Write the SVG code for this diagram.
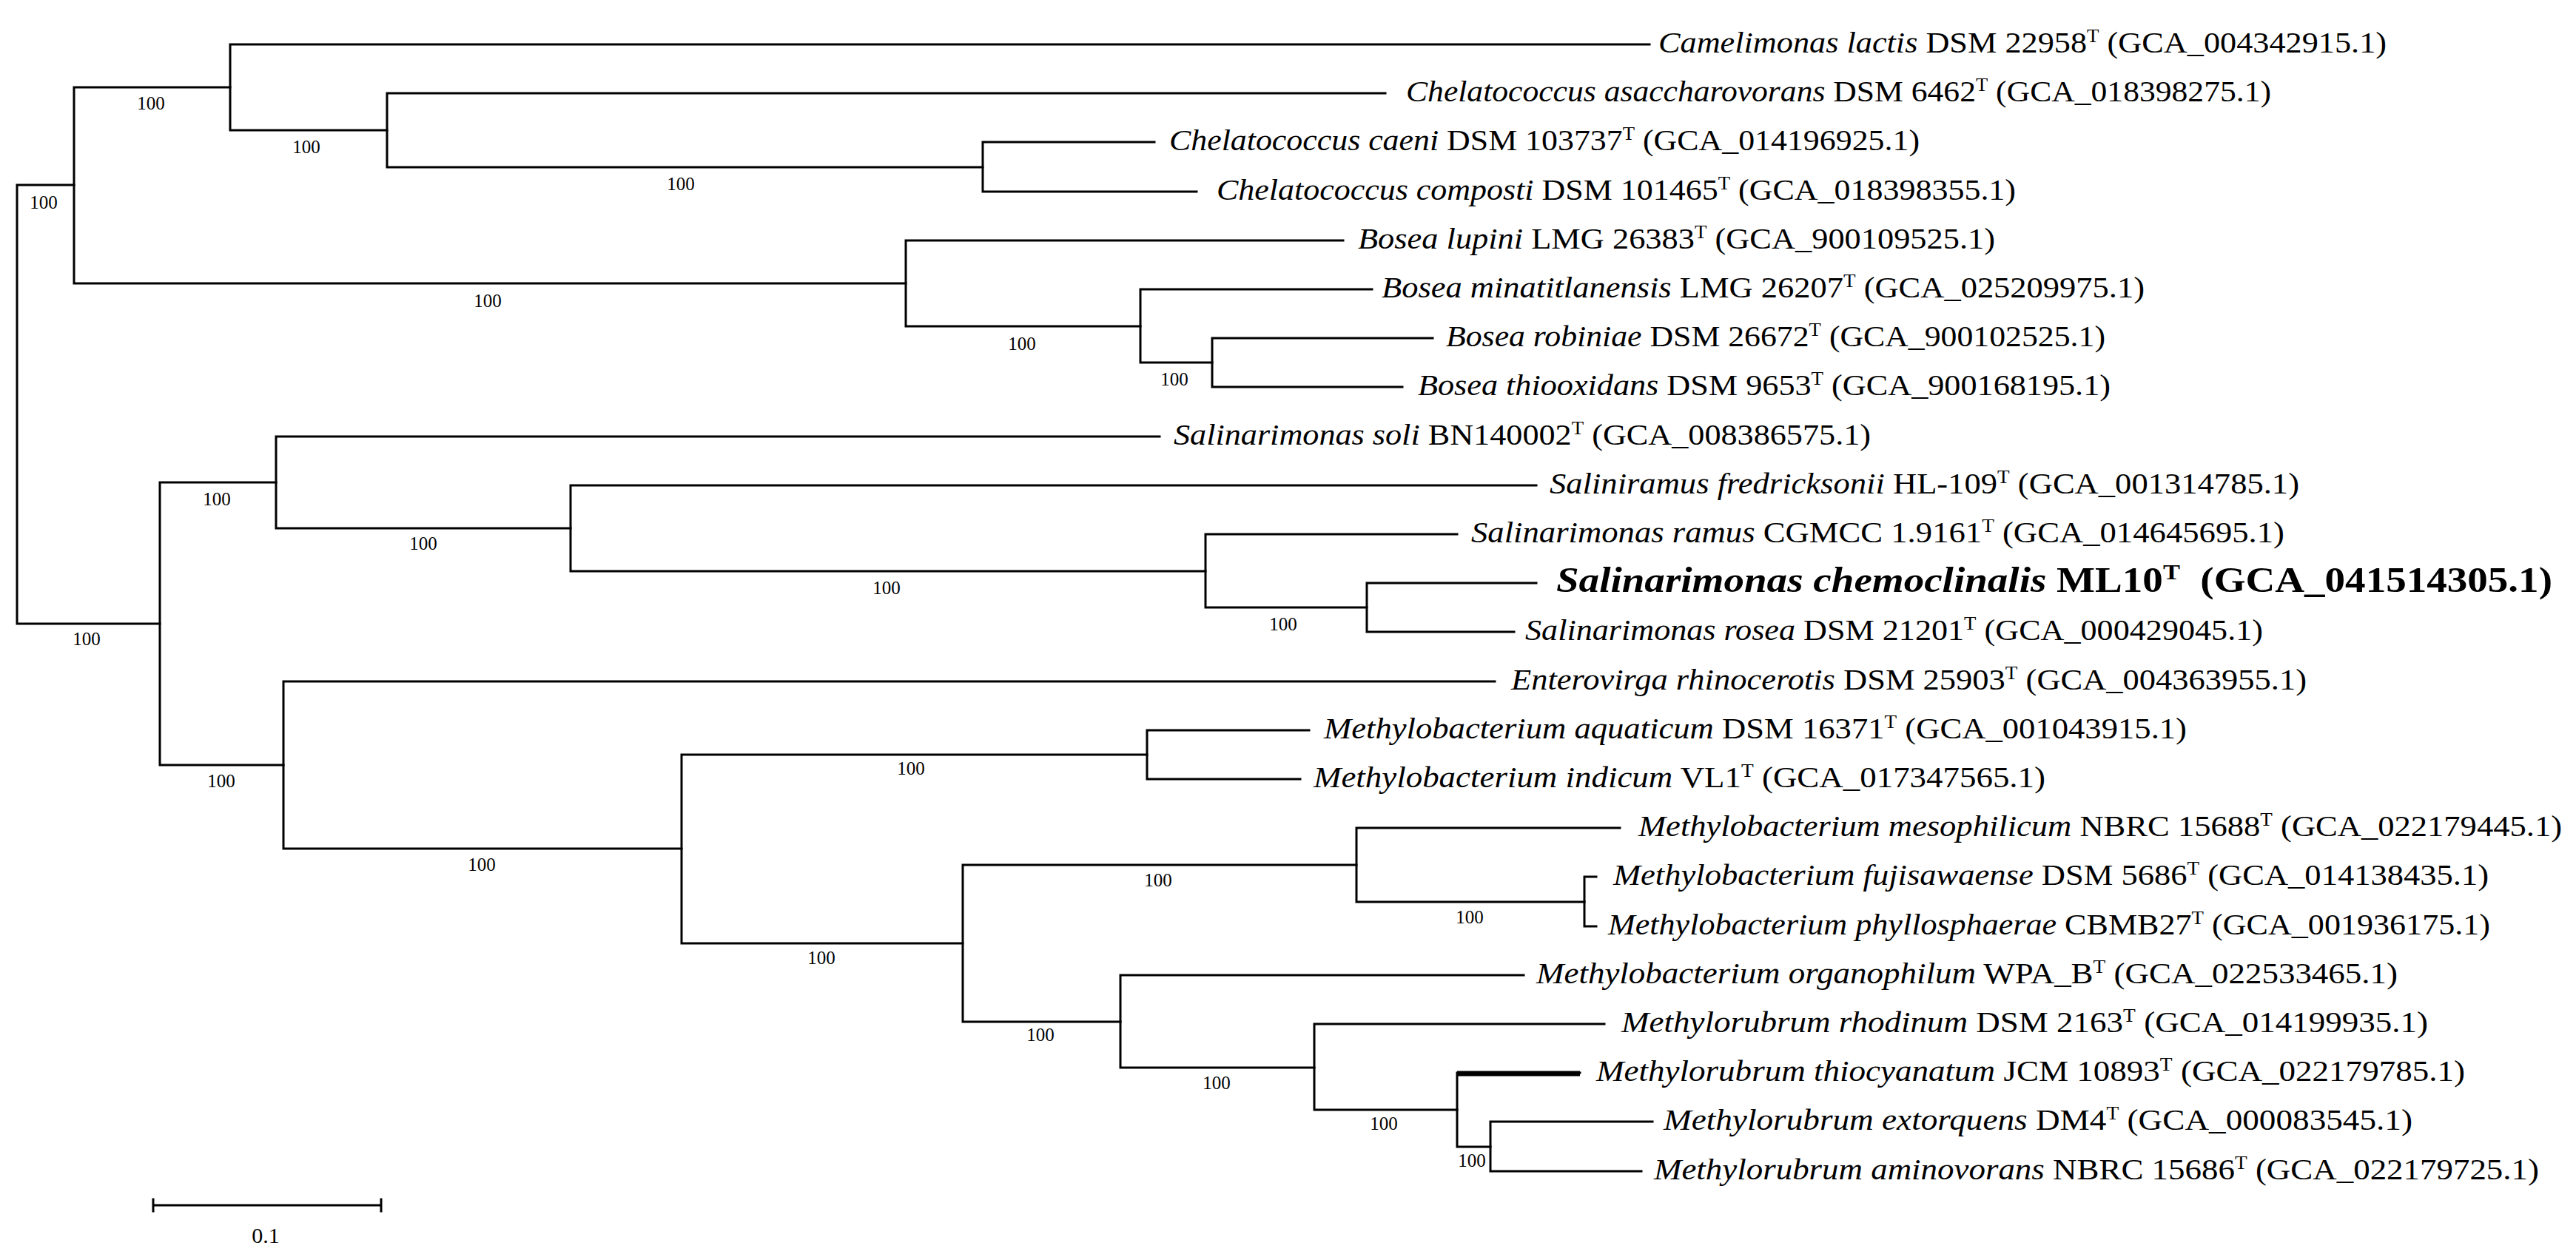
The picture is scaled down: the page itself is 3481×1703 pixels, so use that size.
<svg xmlns="http://www.w3.org/2000/svg" width="3481" height="1703" viewBox="0 0 3481 1703">
<style>
.br{fill:none;stroke:#000;stroke-width:3;stroke-linecap:square;stroke-linejoin:miter}
.thick{fill:none;stroke:#000;stroke-width:7}
.tx{font-family:"Liberation Serif","Times New Roman",serif;font-size:41px;fill:#000}
.bd{font-family:"Liberation Serif","Times New Roman",serif;font-size:48px;font-weight:bold;fill:#000}
.i{font-style:italic}
.bs{font-family:"Liberation Serif","Times New Roman",serif;font-size:25px;fill:#000;text-anchor:middle}
.sc{font-family:"Liberation Serif","Times New Roman",serif;font-size:30px;fill:#000;text-anchor:middle}
</style>
<rect width="3481" height="1703" fill="#fff"/>
<g id="connectors">
<path class="br" d="M100,250 H23 V843 H216"/>
<path class="br" d="M311,118 H100 V383 H1224"/>
<path class="br" d="M2229,60 H311 V176 H523"/>
<path class="br" d="M1872,126 H523 V226 H1328"/>
<path class="br" d="M1560,192 H1328 V259 H1617"/>
<path class="br" d="M1815,325 H1224 V441 H1541"/>
<path class="br" d="M1854,391 H1541 V490 H1638"/>
<path class="br" d="M1936,457 H1638 V523 H1895"/>
<path class="br" d="M373,652 H216 V1034 H383"/>
<path class="br" d="M1567,590 H373 V714 H771"/>
<path class="br" d="M2076,656 H771 V772 H1629"/>
<path class="br" d="M1969,722 H1629 V821 H1847"/>
<path class="br" d="M2076,788 H1847 V854 H2046"/>
<path class="br" d="M2020,921 H383 V1147 H921"/>
<path class="br" d="M1550,1020 H921 V1275 H1301"/>
<path class="br" d="M1769,987 H1550 V1053 H1757"/>
<path class="br" d="M1833,1169 H1301 V1381 H1514"/>
<path class="br" d="M2189,1119 H1833 V1219 H2141"/>
<path class="br" d="M2157,1185 H2141 V1252 H2157"/>
<path class="br" d="M2059,1318 H1514 V1443 H1776"/>
<path class="br" d="M2168,1384 H1776 V1500 H1969"/>
<path class="br" d="M2135,1450 H1969 V1550 H2014"/>
<path class="thick" d="M1969,1451 H2135"/>
<path class="br" d="M2233,1516 H2014 V1583 H2218"/>
</g>
<g id="bootstrap">
<text class="bs" x="204" y="148">100</text>
<text class="bs" x="414" y="207">100</text>
<text class="bs" x="920" y="257">100</text>
<text class="bs" x="59" y="282">100</text>
<text class="bs" x="659" y="415">100</text>
<text class="bs" x="1381" y="473">100</text>
<text class="bs" x="1587" y="521">100</text>
<text class="bs" x="117" y="872">100</text>
<text class="bs" x="293" y="683">100</text>
<text class="bs" x="572" y="743">100</text>
<text class="bs" x="1198" y="803">100</text>
<text class="bs" x="1734" y="852">100</text>
<text class="bs" x="299" y="1064">100</text>
<text class="bs" x="651" y="1177">100</text>
<text class="bs" x="1110" y="1303">100</text>
<text class="bs" x="1231" y="1047">100</text>
<text class="bs" x="1565" y="1198">100</text>
<text class="bs" x="1986" y="1248">100</text>
<text class="bs" x="1406" y="1407">100</text>
<text class="bs" x="1644" y="1472">100</text>
<text class="bs" x="1870" y="1527">100</text>
<text class="bs" x="1989" y="1577">100</text>
</g>
<g id="taxon-0"><text class="tx" x="2241" y="71" textLength="984" lengthAdjust="spacingAndGlyphs"><tspan class="i">Camelimonas lactis</tspan> DSM 22958<tspan dy="-14" font-size="25">T</tspan><tspan dy="14"> (GCA_004342915.1)</tspan></text></g>
<g id="taxon-1"><text class="tx" x="1900" y="137" textLength="1169" lengthAdjust="spacingAndGlyphs"><tspan class="i">Chelatococcus asaccharovorans</tspan> DSM 6462<tspan dy="-14" font-size="25">T</tspan><tspan dy="14"> (GCA_018398275.1)</tspan></text></g>
<g id="taxon-2"><text class="tx" x="1580" y="203" textLength="1014" lengthAdjust="spacingAndGlyphs"><tspan class="i">Chelatococcus caeni</tspan> DSM 103737<tspan dy="-14" font-size="25">T</tspan><tspan dy="14"> (GCA_014196925.1)</tspan></text></g>
<g id="taxon-3"><text class="tx" x="1644" y="270" textLength="1080" lengthAdjust="spacingAndGlyphs"><tspan class="i">Chelatococcus composti</tspan> DSM 101465<tspan dy="-14" font-size="25">T</tspan><tspan dy="14"> (GCA_018398355.1)</tspan></text></g>
<g id="taxon-4"><text class="tx" x="1835" y="336" textLength="861" lengthAdjust="spacingAndGlyphs"><tspan class="i">Bosea lupini</tspan> LMG 26383<tspan dy="-14" font-size="25">T</tspan><tspan dy="14"> (GCA_900109525.1)</tspan></text></g>
<g id="taxon-5"><text class="tx" x="1867" y="402" textLength="1031" lengthAdjust="spacingAndGlyphs"><tspan class="i">Bosea minatitlanensis</tspan> LMG 26207<tspan dy="-14" font-size="25">T</tspan><tspan dy="14"> (GCA_025209975.1)</tspan></text></g>
<g id="taxon-6"><text class="tx" x="1954" y="468" textLength="891" lengthAdjust="spacingAndGlyphs"><tspan class="i">Bosea robiniae</tspan> DSM 26672<tspan dy="-14" font-size="25">T</tspan><tspan dy="14"> (GCA_900102525.1)</tspan></text></g>
<g id="taxon-7"><text class="tx" x="1916" y="534" textLength="936" lengthAdjust="spacingAndGlyphs"><tspan class="i">Bosea thiooxidans</tspan> DSM 9653<tspan dy="-14" font-size="25">T</tspan><tspan dy="14"> (GCA_900168195.1)</tspan></text></g>
<g id="taxon-8"><text class="tx" x="1586" y="601" textLength="942" lengthAdjust="spacingAndGlyphs"><tspan class="i">Salinarimonas soli</tspan> BN140002<tspan dy="-14" font-size="25">T</tspan><tspan dy="14"> (GCA_008386575.1)</tspan></text></g>
<g id="taxon-9"><text class="tx" x="2094" y="667" textLength="1013" lengthAdjust="spacingAndGlyphs"><tspan class="i">Saliniramus fredricksonii</tspan> HL-109<tspan dy="-14" font-size="25">T</tspan><tspan dy="14"> (GCA_001314785.1)</tspan></text></g>
<g id="taxon-10"><text class="tx" x="1988" y="733" textLength="1099" lengthAdjust="spacingAndGlyphs"><tspan class="i">Salinarimonas ramus</tspan> CGMCC 1.9161<tspan dy="-14" font-size="25">T</tspan><tspan dy="14"> (GCA_014645695.1)</tspan></text></g>
<g id="taxon-11"><text class="bd" x="2103" y="800" textLength="1346" lengthAdjust="spacingAndGlyphs"><tspan class="i">Salinarimonas chemoclinalis</tspan> ML10<tspan dy="-17" font-size="30">T</tspan><tspan dy="17">&#160; (GCA_041514305.1)</tspan></text></g>
<g id="taxon-12"><text class="tx" x="2061" y="865" textLength="997" lengthAdjust="spacingAndGlyphs"><tspan class="i">Salinarimonas rosea</tspan> DSM 21201<tspan dy="-14" font-size="25">T</tspan><tspan dy="14"> (GCA_000429045.1)</tspan></text></g>
<g id="taxon-13"><text class="tx" x="2042" y="932" textLength="1075" lengthAdjust="spacingAndGlyphs"><tspan class="i">Enterovirga rhinocerotis</tspan> DSM 25903<tspan dy="-14" font-size="25">T</tspan><tspan dy="14"> (GCA_004363955.1)</tspan></text></g>
<g id="taxon-14"><text class="tx" x="1789" y="998" textLength="1166" lengthAdjust="spacingAndGlyphs"><tspan class="i">Methylobacterium aquaticum</tspan> DSM 16371<tspan dy="-14" font-size="25">T</tspan><tspan dy="14"> (GCA_001043915.1)</tspan></text></g>
<g id="taxon-15"><text class="tx" x="1775" y="1064" textLength="989" lengthAdjust="spacingAndGlyphs"><tspan class="i">Methylobacterium indicum</tspan> VL1<tspan dy="-14" font-size="25">T</tspan><tspan dy="14"> (GCA_017347565.1)</tspan></text></g>
<g id="taxon-16"><text class="tx" x="2214" y="1130" textLength="1248" lengthAdjust="spacingAndGlyphs"><tspan class="i">Methylobacterium mesophilicum</tspan> NBRC 15688<tspan dy="-14" font-size="25">T</tspan><tspan dy="14"> (GCA_022179445.1)</tspan></text></g>
<g id="taxon-17"><text class="tx" x="2180" y="1196" textLength="1183" lengthAdjust="spacingAndGlyphs"><tspan class="i">Methylobacterium fujisawaense</tspan> DSM 5686<tspan dy="-14" font-size="25">T</tspan><tspan dy="14"> (GCA_014138435.1)</tspan></text></g>
<g id="taxon-18"><text class="tx" x="2173" y="1263" textLength="1192" lengthAdjust="spacingAndGlyphs"><tspan class="i">Methylobacterium phyllosphaerae</tspan> CBMB27<tspan dy="-14" font-size="25">T</tspan><tspan dy="14"> (GCA_001936175.1)</tspan></text></g>
<g id="taxon-19"><text class="tx" x="2076" y="1329" textLength="1164" lengthAdjust="spacingAndGlyphs"><tspan class="i">Methylobacterium organophilum</tspan> WPA_B<tspan dy="-14" font-size="25">T</tspan><tspan dy="14"> (GCA_022533465.1)</tspan></text></g>
<g id="taxon-20"><text class="tx" x="2191" y="1395" textLength="1090" lengthAdjust="spacingAndGlyphs"><tspan class="i">Methylorubrum rhodinum</tspan> DSM 2163<tspan dy="-14" font-size="25">T</tspan><tspan dy="14"> (GCA_014199935.1)</tspan></text></g>
<g id="taxon-21"><text class="tx" x="2157" y="1461" textLength="1174" lengthAdjust="spacingAndGlyphs"><tspan class="i">Methylorubrum thiocyanatum</tspan> JCM 10893<tspan dy="-14" font-size="25">T</tspan><tspan dy="14"> (GCA_022179785.1)</tspan></text></g>
<g id="taxon-22"><text class="tx" x="2248" y="1527" textLength="1012" lengthAdjust="spacingAndGlyphs"><tspan class="i">Methylorubrum extorquens</tspan> DM4<tspan dy="-14" font-size="25">T</tspan><tspan dy="14"> (GCA_000083545.1)</tspan></text></g>
<g id="taxon-23"><text class="tx" x="2235" y="1594" textLength="1196" lengthAdjust="spacingAndGlyphs"><tspan class="i">Methylorubrum aminovorans</tspan> NBRC 15686<tspan dy="-14" font-size="25">T</tspan><tspan dy="14"> (GCA_022179725.1)</tspan></text></g>
<g id="scale-bar">
<path class="br" d="M207,1629 H515 M207,1621 V1637 M515,1621 V1637"/>
<text class="sc" x="359" y="1680">0.1</text>
</g>
</svg>
